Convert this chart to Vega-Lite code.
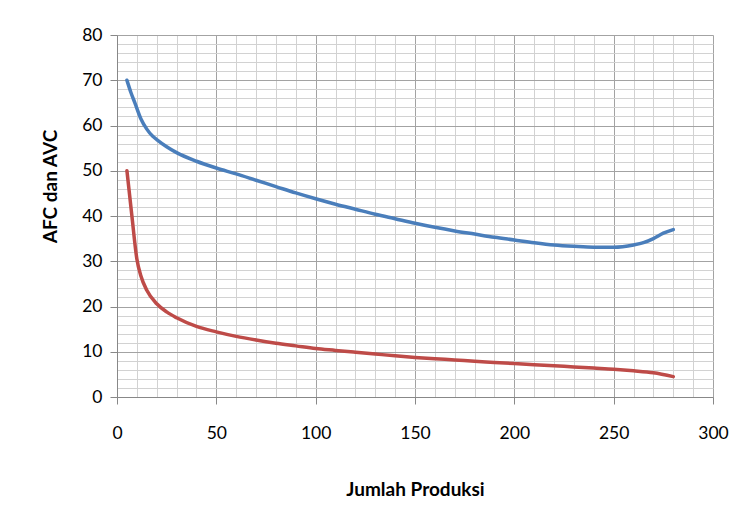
{
  "$schema": "https://vega.github.io/schema/vega-lite/v6.json",
  "width": 596,
  "height": 362,
  "autosize": "none",
  "padding": {"left": 117, "top": 35, "right": 34, "bottom": 123},
  "background": "white",
  "config": {"view": {"stroke": null}, "font": "Lato"},
  "data": {
    "values": [
      {"q": 5, "cost": 70, "series": "AVC"},
      {"q": 7, "cost": 67.3, "series": "AVC"},
      {"q": 9, "cost": 65, "series": "AVC"},
      {"q": 12, "cost": 61.5, "series": "AVC"},
      {"q": 15, "cost": 59.2, "series": "AVC"},
      {"q": 18, "cost": 57.6, "series": "AVC"},
      {"q": 20, "cost": 56.9, "series": "AVC"},
      {"q": 25, "cost": 55.3, "series": "AVC"},
      {"q": 30, "cost": 54.0, "series": "AVC"},
      {"q": 40, "cost": 52.1, "series": "AVC"},
      {"q": 50, "cost": 50.6, "series": "AVC"},
      {"q": 60, "cost": 49.3, "series": "AVC"},
      {"q": 70, "cost": 47.9, "series": "AVC"},
      {"q": 80, "cost": 46.5, "series": "AVC"},
      {"q": 90, "cost": 45.1, "series": "AVC"},
      {"q": 100, "cost": 43.8, "series": "AVC"},
      {"q": 110, "cost": 42.6, "series": "AVC"},
      {"q": 120, "cost": 41.5, "series": "AVC"},
      {"q": 130, "cost": 40.4, "series": "AVC"},
      {"q": 140, "cost": 39.4, "series": "AVC"},
      {"q": 150, "cost": 38.4, "series": "AVC"},
      {"q": 160, "cost": 37.5, "series": "AVC"},
      {"q": 170, "cost": 36.7, "series": "AVC"},
      {"q": 180, "cost": 36.0, "series": "AVC"},
      {"q": 190, "cost": 35.3, "series": "AVC"},
      {"q": 200, "cost": 34.7, "series": "AVC"},
      {"q": 210, "cost": 34.1, "series": "AVC"},
      {"q": 220, "cost": 33.6, "series": "AVC"},
      {"q": 230, "cost": 33.3, "series": "AVC"},
      {"q": 240, "cost": 33.1, "series": "AVC"},
      {"q": 250, "cost": 33.1, "series": "AVC"},
      {"q": 260, "cost": 33.6, "series": "AVC"},
      {"q": 265, "cost": 34.1, "series": "AVC"},
      {"q": 270, "cost": 35.0, "series": "AVC"},
      {"q": 275, "cost": 36.2, "series": "AVC"},
      {"q": 280, "cost": 37.0, "series": "AVC"},
      {"q": 5, "cost": 50, "series": "AFC"},
      {"q": 7.5, "cost": 40, "series": "AFC"},
      {"q": 10, "cost": 30.5, "series": "AFC"},
      {"q": 12, "cost": 26.8, "series": "AFC"},
      {"q": 15, "cost": 23.6, "series": "AFC"},
      {"q": 20, "cost": 20.6, "series": "AFC"},
      {"q": 25, "cost": 18.8, "series": "AFC"},
      {"q": 30, "cost": 17.5, "series": "AFC"},
      {"q": 40, "cost": 15.6, "series": "AFC"},
      {"q": 50, "cost": 14.4, "series": "AFC"},
      {"q": 60, "cost": 13.4, "series": "AFC"},
      {"q": 70, "cost": 12.6, "series": "AFC"},
      {"q": 80, "cost": 11.9, "series": "AFC"},
      {"q": 90, "cost": 11.3, "series": "AFC"},
      {"q": 100, "cost": 10.7, "series": "AFC"},
      {"q": 110, "cost": 10.3, "series": "AFC"},
      {"q": 120, "cost": 9.9, "series": "AFC"},
      {"q": 130, "cost": 9.5, "series": "AFC"},
      {"q": 140, "cost": 9.1, "series": "AFC"},
      {"q": 150, "cost": 8.75, "series": "AFC"},
      {"q": 160, "cost": 8.45, "series": "AFC"},
      {"q": 170, "cost": 8.2, "series": "AFC"},
      {"q": 180, "cost": 7.9, "series": "AFC"},
      {"q": 190, "cost": 7.65, "series": "AFC"},
      {"q": 200, "cost": 7.4, "series": "AFC"},
      {"q": 210, "cost": 7.15, "series": "AFC"},
      {"q": 220, "cost": 6.9, "series": "AFC"},
      {"q": 230, "cost": 6.65, "series": "AFC"},
      {"q": 240, "cost": 6.4, "series": "AFC"},
      {"q": 250, "cost": 6.15, "series": "AFC"},
      {"q": 260, "cost": 5.8, "series": "AFC"},
      {"q": 270, "cost": 5.35, "series": "AFC"},
      {"q": 280, "cost": 4.5, "series": "AFC"}
    ]
  },
  "mark": {"type": "line", "interpolate": "monotone", "strokeWidth": 3.5, "strokeCap": "round"},
  "encoding": {
    "x": {
      "field": "q",
      "type": "quantitative",
      "scale": {"domain": [0, 300], "nice": false},
      "axis": {
        "values": [0,10,20,30,40,50,60,70,80,90,100,110,120,130,140,150,160,170,180,190,200,210,220,230,240,250,260,270,280,290,300],
        "title": "Jumlah Produksi",
        "grid": true,
        "gridColor": {"condition": {"test": "datum.value % 50 === 0", "value": "#a3a3a3"}, "value": "#d2d2d2"},
        "gridWidth": 1,
        "tickColor": "#888888",
        "tickOpacity": {"condition": {"test": "datum.value % 50 === 0", "value": 1}, "value": 0},
        "tickSize": 7,
        "labelExpr": "datum.value % 50 === 0 ? datum.label : ''",
        "labelOverlap": false,
        "labelFlush": false,
        "labelPadding": 20,
        "labelFontSize": 17.5,
        "labelColor": "#000000",
        "domainColor": "#888888",
        "titleFontSize": 19,
        "titleFontWeight": "bold",
        "titleColor": "#000000",
        "titleBaseline": "middle",
        "titleY": 92
      }
    },
    "y": {
      "field": "cost",
      "type": "quantitative",
      "scale": {"domain": [0, 80], "nice": false},
      "axis": {
        "values": [0,2,4,6,8,10,12,14,16,18,20,22,24,26,28,30,32,34,36,38,40,42,44,46,48,50,52,54,56,58,60,62,64,66,68,70,72,74,76,78,80],
        "title": "AFC dan AVC",
        "grid": true,
        "gridColor": {"condition": {"test": "datum.value % 10 === 0", "value": "#a3a3a3"}, "value": "#d2d2d2"},
        "gridWidth": 1,
        "tickColor": "#888888",
        "tickOpacity": {"condition": {"test": "datum.value % 10 === 0", "value": 1}, "value": 0},
        "tickSize": 7,
        "labelExpr": "datum.value % 10 === 0 ? datum.label : ''",
        "labelOverlap": false,
        "labelPadding": 8,
        "labelFontSize": 17.5,
        "labelColor": "#000000",
        "domainColor": "#888888",
        "titleFontSize": 19,
        "titleFontWeight": "bold",
        "titleColor": "#000000",
        "titleAngle": -90,
        "titleAlign": "center",
        "titleBaseline": "middle",
        "titleX": -67,
        "titleY": 151
      }
    },
    "color": {
      "field": "series",
      "type": "nominal",
      "scale": {"domain": ["AVC", "AFC"], "range": ["#4a7ebb", "#be4b48"]},
      "legend": null
    }
  }
}
